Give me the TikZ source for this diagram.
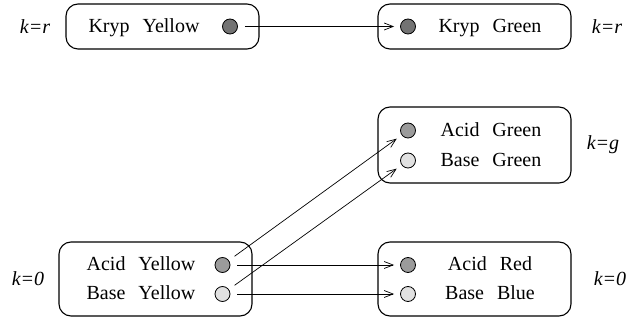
\documentclass[tikz,border=0pt]{standalone}
\usepackage{fontspec}
\setmainfont{Liberation Serif}
\newfontfamily\tms{Liberation Serif}
\usetikzlibrary{arrows.meta}
\definecolor{krypc}{RGB}{115,115,115}
\definecolor{acidc}{RGB}{155,155,155}
\definecolor{basec}{RGB}{225,225,225}
\newcommand{\gp}{\hspace{0.65em}}
\begin{document}
\begin{tikzpicture}[x=1pt,y=-1pt,
  box/.style={draw,line width=1.1pt,rounded corners=12pt,minimum width=193pt,inner sep=0pt},
  dot/.style={circle,draw,line width=0.8pt,minimum size=15pt,inner sep=0pt},
  kryp/.style={dot,fill=krypc},
  acid/.style={dot,fill=acidc},
  base/.style={dot,fill=basec},
  lbl/.style={font=\tms\fontsize{20}{24}\selectfont,anchor=base,inner sep=0pt},
  klbl/.style={font=\tms\fontsize{20}{24}\selectfont\itshape,inner sep=0pt},
  arr/.style={line width=0.7pt,-{Straight Barb[length=9pt,width=7pt]},shorten <=7pt,shorten >=6pt}]
\useasboundingbox (0,0) rectangle (629,320);
% boxes
\node[box,minimum height=45pt] (bKY) at (162.5,26.5) {};
\node[box,minimum height=45pt] (bKG) at (474.5,26.5) {};
\node[box,minimum height=76pt] (bG) at (474.5,145) {};
\node[box,minimum height=74pt] (bY) at (155.5,279) {};
\node[box,minimum height=74pt] (bR) at (474.5,279) {};
% texts
\node[lbl] (tKY) at (144,33) {Kryp\gp Yellow};
\node[lbl] (tKG) at (490,33) {Kryp\gp Green};
\node[lbl] (tAG) at (491,136.5) {Acid\gp Green};
\node[lbl] (tBG) at (491,166.5) {Base\gp Green};
\node[lbl] (tAY) at (141,271) {Acid\gp Yellow};
\node[lbl] (tBY) at (141,300) {Base\gp Yellow};
\node[lbl] (tAR) at (490,271) {Acid\gp Red};
\node[lbl] (tBB) at (490,300) {Base\gp Blue};
% dots
\node[kryp] (cKY) at (230,26.5) {};
\node[kryp] (cKG) at (408,26.5) {};
\node[acid] (cAG) at (408,130.5) {};
\node[base] (cBG) at (408,160.5) {};
\node[acid] (cAY) at (222.5,265) {};
\node[base] (cBY) at (222.5,294) {};
\node[acid] (cAR) at (408,265) {};
\node[base] (cBB) at (408,294) {};
% k labels
\node[klbl] (kKY) at (35,26.5) {k=r};
\node[klbl] (kKG) at (607,26.5) {k=r};
\node[klbl] (kG) at (603,145) {k=g};
\node[klbl] (kY) at (28,279) {k=0};
\node[klbl] (kR) at (610,279) {k=0};
% arrows
\draw[arr] (cKY) -- (cKG);
\draw[arr] (cAY) -- (cAG);
\draw[arr] (cBY) -- (cBG);
\draw[arr] (cAY) -- (cAR);
\draw[arr] (cBY) -- (cBB);
\end{tikzpicture}
\end{document}
